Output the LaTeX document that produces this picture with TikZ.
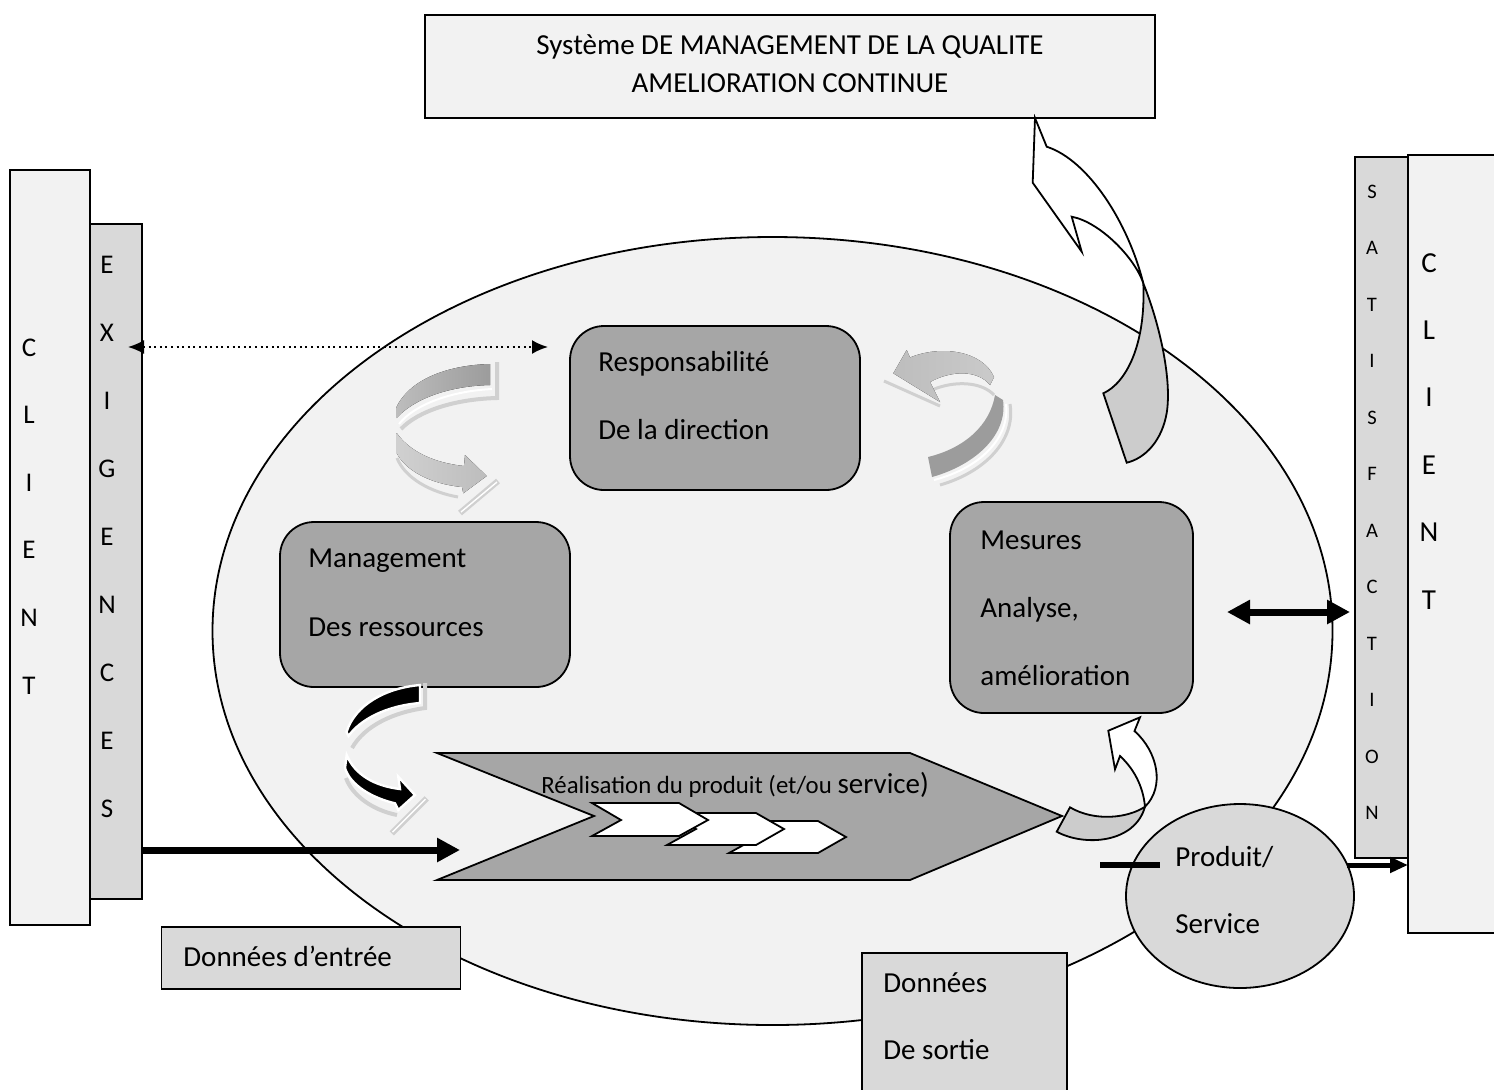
\documentclass[tikz,border=0pt]{standalone}
\usepackage{fontspec}
\setmainfont{Carlito}
\usetikzlibrary{arrows.meta,shapes.geometric}
\definecolor{paleg}{HTML}{F2F2F2}
\definecolor{midg}{HTML}{D9D9D9}
\definecolor{boxg}{HTML}{A6A6A6}
\definecolor{tailg}{HTML}{CCCCCC}
\definecolor{shadeg}{HTML}{D0D0D0}
\definecolor{swirldark}{HTML}{9C9C9C}
\definecolor{swirlmid}{HTML}{BDBDBD}
\definecolor{swirllight}{HTML}{CACACA}
\begin{document}
\begin{tikzpicture}[x=0.5pt,y=-0.5pt,
  edge/.style={draw=black,line width=0.9pt},
  panel/.style={edge,inner sep=0pt,outer sep=0pt},
  roundbox/.style={panel,fill=boxg,rounded corners=17pt},
  body/.style={font=\fontsize{14.5}{17}\selectfont,inner sep=0pt,anchor=base west},
  bigletter/.style={font=\fontsize{14.5}{17}\selectfont,inner sep=0pt,anchor=base},
  sideletter/.style={font=\fontsize{13.5}{16}\selectfont,inner sep=0pt,anchor=base},
  smallletter/.style={font=\fontsize{10.3}{12}\selectfont,inner sep=0pt,anchor=base},
  heavy/.style={line width=3.5pt,-{Triangle[length=11.5pt,width=11.5pt]}},
  bevel/.style={draw=white,line width=1.2pt},
]
\useasboundingbox (0,0) rectangle (1494,1089);
\clip (0,0) rectangle (1494,1089);
\fill[white] (0,0) rectangle (1494,1089);

% process cycle
\node[ellipse,edge,fill=paleg,minimum width=560pt,minimum height=394pt,inner sep=0pt] (cycle) at (772.5,631) {};

% quality management system
\node[panel,fill=paleg,minimum width=365pt,minimum height=51.5pt] (smq) at (790,66.5) {};
\node[bigletter] (smq1) at (790,54) {Système DE MANAGEMENT DE LA QUALITE};
\node[bigletter] (smq2) at (790,92) {AMELIORATION CONTINUE};

% customer side (input)
\node[panel,fill=paleg,minimum width=40pt,minimum height=377.5pt] (clientL) at (50,547.5) {};
\foreach \l [count=\i from 0] in {C,L,I,E,N,T}
  \node[sideletter] (clientL\i) at (29,{356+67.6*\i}) {\l};
\node[panel,fill=midg,minimum width=26pt,minimum height=337.5pt] (exig) at (116,561.5) {};
\foreach \l [count=\i from 0] in {E,X,I,G,E,N,C,E,S}
  \node[sideletter] (exig\i) at (107,{273+68*\i}) {\l};

% customer side (output)
\node[panel,fill=midg,minimum width=26.5pt,minimum height=350.5pt] (satis) at (1381.5,507.5) {};
\foreach \l [count=\i from 0] in {S,A,T,I,S,F,A,C,T,I,O,N}
  \node[smallletter] (satis\i) at (1372,{198+56.5*\i}) {\l};
\node[panel,fill=paleg,minimum width=46pt,minimum height=389pt] (clientR) at (1454,544) {};
\foreach \l [count=\i from 0] in {C,L,I,E,N,T}
  \node[bigletter] (clientR\i) at (1429,{272+67.4*\i}) {\l};

% process boxes
\node[roundbox,minimum width=145pt,minimum height=82pt] (resp) at (715,408) {};
\node[body] (resp1) at (598,371) {Responsabilité};
\node[body] (resp2) at (598,439) {De la direction};
\node[roundbox,minimum width=145pt,minimum height=82.5pt] (mgmt) at (425,604.5) {};
\node[body] (mgmt1) at (308,567) {Management};
\node[body] (mgmt2) at (308,636) {Des ressources};
\node[roundbox,minimum width=121.5pt,minimum height=105.5pt] (mes) at (1071.5,607.5) {};
\node[body] (mes1) at (980,549) {Mesures};
\node[body] (mes2) at (980,617) {Analyse,};
\node[body] (mes3) at (980,685) {amélioration};

% product realisation chevron with its steps
\draw[edge,fill=boxg] (437,753) -- (910,753) -- (1062,816) -- (910,880) -- (437,880) -- (594,816) -- cycle;
\draw[edge,fill=white] (729,821) -- (818,821) -- (846,837) -- (818,853) -- (729,853) -- (758,837) -- cycle;
\draw[edge,fill=white] (667,813) -- (756,813) -- (784,829) -- (756,845) -- (667,845) -- (696,829) -- cycle;
\draw[edge,fill=white] (592,803) -- (679,803) -- (708,820) -- (679,836) -- (592,836) -- (621,820) -- cycle;
\node[font=\fontsize{12.4}{15}\selectfont,inner sep=0pt,anchor=base west] (realis) at (541,793)
  {Réalisation du produit (et/ou {\fontsize{14.5}{17}\selectfont service)}};

% shaded swirl: resources -> responsibility (upper left)
\draw[shadeg,line width=2pt] (497,362) -- (497,398) .. controls (455,399) and (418,411) .. (401,429);
\draw[white,line width=1pt] (492,389) .. controls (452,391) and (415,404) .. (399,424);
\fill[left color=swirlmid,right color=swirldark] (490,364) .. controls (450,365) and (410,378) .. (396,408) -- (396.5,418) .. controls (415,398) and (450,386) .. (490,385) -- cycle;
\draw[shadeg,line width=1.5pt] (397,458) .. controls (405,478) and (430,492) .. (458,497);
\fill[left color=shadeg,right color=swirlmid] (396.7,433) .. controls (410,452) and (435,463) .. (464,466) -- (465,455) -- (486.7,476) -- (463.3,493.3) -- (462,487) .. controls (430,484) and (405,470) .. (396.7,453) -- cycle;
\draw[shadeg,line width=3pt] (460,513) -- (498,481);
\draw[white,line width=0.7pt] (461,512) -- (497,482);

% shaded swirl: measures -> responsibility (upper right)
\draw[shadeg,line width=1.5pt] (884,381) -- (940,406);
\draw[shadeg,line width=1.5pt] (932,390) .. controls (955,380) and (982,382) .. (994,395);
\fill[left color=swirlmid,right color=swirllight] (893.3,373.3) -- (906.7,350) -- (910,357.5) .. controls (940,345) and (982,350) .. (994,377) -- (990,385) .. controls (978,370) and (952,370) .. (930,382) -- (940,402) -- cycle;
\draw[shadeg,line width=1.5pt] (1010,404) .. controls (1016,440) and (985,472) .. (940,485);
\draw[white,line width=1pt] (1006,404) .. controls (1010,438) and (980,468) .. (934,480);
\fill[swirldark] (995,395) .. controls (990,425) and (965,448) .. (928,457) -- (932,477) .. controls (975,465) and (1008,435) .. (1003,400) -- cycle;

% black swirl: resources -> realisation
\draw[shadeg,line width=2pt] (425,683) -- (425,708) .. controls (395,712) and (365,725) .. (352,748);
\filldraw[bevel,fill=black] (420,685) .. controls (385,688) and (355,705) .. (346.5,732) -- (348.5,736) .. controls (360,720) and (385,706) .. (420,703) -- cycle;
\draw[shadeg,line width=2pt] (346,778) .. controls (352,795) and (372,810) .. (397,815);
\filldraw[bevel,fill=black] (346.7,755) .. controls (355,775) and (375,786) .. (400,789) -- (398.3,776.7) -- (415,795) -- (398.3,810) -- (395,803.3) .. controls (372,798) and (350,785) .. (345,768) -- cycle;
\draw[shadeg,line width=3pt] (391.7,833.3) -- (426.7,798.3);
\draw[white,line width=0.7pt] (392.5,832) -- (425.5,799);

% continual improvement arrow up to the system box
\draw[edge,fill=white] (1035,118) -- (1046.7,146.7) .. controls (1088,160) and (1128,222) .. (1143.3,283.3)
  .. controls (1135,258) and (1100,222) .. (1071.7,216.7) -- (1081.7,251.7) -- (1032.7,182.7) -- cycle;
\draw[edge,fill=tailg] (1143.3,283.3) .. controls (1160,325) and (1172,380) .. (1166.7,413)
  .. controls (1162,440) and (1146,458) .. (1126.7,462.7) -- (1103.3,393.3)
  .. controls (1126,383) and (1146,345) .. (1143.3,283.3) -- cycle;

% realisation -> measures arrow
\draw[edge,fill=white] (1140,717.3) -- (1134.5,731) .. controls (1158,752) and (1165,787) .. (1145,806.7)
  .. controls (1143,785) and (1133,768) .. (1120,756) -- (1115,769.3) -- (1108.3,730.7) -- cycle;
\draw[edge,fill=tailg] (1145,806.7) .. controls (1128,818) and (1095,822) .. (1070,807.3) -- (1056.7,831.7)
  .. controls (1085,847) and (1135,843) .. (1145,806.7) -- cycle;

% product / service output
\node[ellipse,edge,fill=midg,minimum width=114pt,minimum height=92pt,inner sep=0pt] (prod) at (1240,896) {};
\node[body] (prod1) at (1175,866) {Produit/};
\node[body] (prod2) at (1175,933) {Service};

% input / output data labels
\node[panel,fill=midg,minimum width=149.5pt,minimum height=31pt] (din) at (311,958) {};
\node[body] (din1) at (183,966) {Données d’entrée};
\node[panel,fill=midg,minimum width=102.5pt,minimum height=73.5pt] (dout) at (964.5,1026.5) {};
\node[body] (dout1) at (883,992) {Données};
\node[body] (dout2) at (883,1059) {De sortie};

% connectors
\coordinate (dotA) at (128,347);
\coordinate (dotB) at (548,347);
\draw[line width=1pt,dash pattern=on 1pt off 1.8pt,{Latex[length=8pt,width=7pt]}-{Latex[length=8pt,width=7pt]}] (dotA) -- (dotB);
\coordinate (inA) at (142,850);
\coordinate (inB) at (460,850);
\draw[heavy] (inA) -- (inB);
\coordinate (satA) at (1227,612);
\coordinate (satB) at (1350,612);
\draw[line width=3.5pt,{Triangle[length=11.5pt,width=11.5pt]}-{Triangle[length=11.5pt,width=11.5pt]}] (satA) -- (satB);
\coordinate (barA) at (1100,865);
\coordinate (barB) at (1160,865);
\draw[line width=3pt] (barA) -- (barB);
\coordinate (outA) at (1347,865);
\coordinate (outB) at (1408,865);
\draw[line width=2.5pt,-{Triangle[length=9pt,width=7.5pt]}] (outA) -- (outB);
\end{tikzpicture}
\end{document}
